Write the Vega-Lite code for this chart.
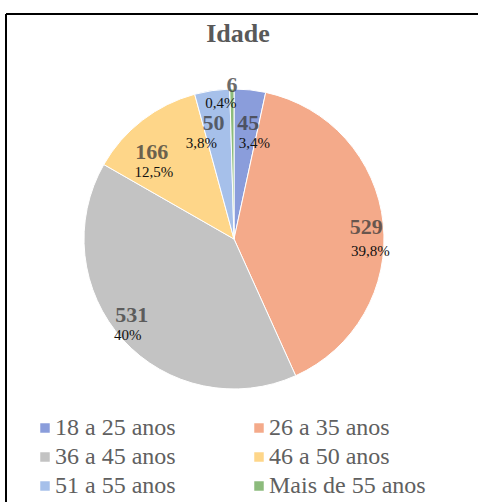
{
  "$schema": "https://vega.github.io/schema/vega-lite/v6.json",
  "width": 472,
  "height": 488,
  "autosize": {"type": "none"},
  "padding": {"left": 6, "top": 14, "right": 0, "bottom": 0},
  "background": "#ffffff",
  "config": {
    "view": {"stroke": null},
    "font": "Liberation Serif",
    "legend": {"labelFont": "Liberation Serif"}
  },
  "title": {
    "text": "Idade",
    "font": "Liberation Serif",
    "fontSize": 26,
    "fontWeight": "bold",
    "color": "#595959",
    "anchor": "middle",
    "frame": "group",
    "offset": -34,
    "dx": -4
  },
  "data": {
    "values": [
      {"faixa": "18 a 25 anos", "valor": 45, "pct": "3,4%"},
      {"faixa": "26 a 35 anos", "valor": 529, "pct": "39,8%"},
      {"faixa": "36 a 45 anos", "valor": 531, "pct": "40%"},
      {"faixa": "46 a 50 anos", "valor": 166, "pct": "12,5%"},
      {"faixa": "51 a 55 anos", "valor": 50, "pct": "3,8%"},
      {"faixa": "Mais de 55 anos", "valor": 6, "pct": "0,4%"}
    ]
  },
  "layer": [
    {
      "data": {"values": [{"moldura": 1}]},
      "mark": {"type": "rule", "stroke": "#000000", "strokeWidth": 2, "strokeCap": "butt"},
      "encoding": {"x": {"value": 0}}
    },
    {
      "data": {"values": [{"moldura": 1}]},
      "mark": {"type": "rule", "stroke": "#000000", "strokeWidth": 2, "strokeCap": "butt"},
      "encoding": {"y": {"value": 0}}
    },
    {
      "encoding": {
        "theta": {"field": "valor", "type": "quantitative", "stack": true},
        "order": {"field": "faixa", "type": "ordinal", "sort": "ascending"},
        "color": {
          "field": "faixa",
          "type": "nominal",
          "scale": {
            "domain": ["18 a 25 anos", "26 a 35 anos", "36 a 45 anos", "46 a 50 anos", "51 a 55 anos", "Mais de 55 anos"],
            "range": ["#8a9ddb", "#f4aa8a", "#c3c3c3", "#fed689", "#a6c0ea", "#8cbb7c"]
          },
          "legend": {
            "title": null,
            "orient": "none",
            "legendX": 27,
            "legendY": 402,
            "columns": 2,
            "direction": "horizontal",
            "padding": 0,
            "symbolType": "square",
            "symbolSize": 90,
            "symbolStrokeWidth": 0,
            "labelFont": "Liberation Serif",
            "labelFontSize": 24,
            "labelColor": "#606060",
            "labelOffset": -2,
            "labelLimit": 300,
            "columnPadding": 71,
            "rowPadding": 5
          }
        }
      },
      "layer": [
        {
          "mark": {"type": "arc", "outerRadius": 150, "stroke": "#ffffff", "strokeWidth": 1, "x": {"expr": "width/2 - 8"}, "y": {"expr": "height/2 - 19"}}
        },
        {
          "mark": {"type": "text", "radius": 106, "dx": 3, "dy": -11, "x": {"expr": "width/2 - 8"}, "y": {"expr": "height/2 - 19"}, "font": "Liberation Serif", "fontSize": 22, "fontWeight": "bold", "opacity": 0.75, "align": "center", "baseline": "middle"},
          "encoding": {"color": {"value": "#3a3a3a"}, "detail": {"field": "faixa", "type": "nominal"}, "text": {"condition": {"test": "datum.faixa === '18 a 25 anos'", "field": "valor", "type": "quantitative"}, "value": ""}}
        },
        {
          "mark": {"type": "text", "radius": 106, "dx": 9, "dy": 9, "x": {"expr": "width/2 - 8"}, "y": {"expr": "height/2 - 19"}, "font": "Liberation Serif", "fontSize": 15, "align": "center", "baseline": "middle"},
          "encoding": {"color": {"value": "#111111"}, "detail": {"field": "faixa", "type": "nominal"}, "text": {"condition": {"test": "datum.faixa === '18 a 25 anos'", "field": "pct", "type": "nominal"}, "value": ""}}
        },
        {
          "mark": {"type": "text", "radius": 132, "dx": 1, "dy": 2, "x": {"expr": "width/2 - 8"}, "y": {"expr": "height/2 - 19"}, "font": "Liberation Serif", "fontSize": 22, "fontWeight": "bold", "opacity": 0.75, "align": "center", "baseline": "middle"},
          "encoding": {"color": {"value": "#3a3a3a"}, "detail": {"field": "faixa", "type": "nominal"}, "text": {"condition": {"test": "datum.faixa === '26 a 35 anos'", "field": "valor", "type": "quantitative"}, "value": ""}}
        },
        {
          "mark": {"type": "text", "radius": 132, "dx": 5, "dy": 26, "x": {"expr": "width/2 - 8"}, "y": {"expr": "height/2 - 19"}, "font": "Liberation Serif", "fontSize": 15, "align": "center", "baseline": "middle"},
          "encoding": {"color": {"value": "#111111"}, "detail": {"field": "faixa", "type": "nominal"}, "text": {"condition": {"test": "datum.faixa === '26 a 35 anos'", "field": "pct", "type": "nominal"}, "value": ""}}
        },
        {
          "mark": {"type": "text", "radius": 130, "dx": -6, "dy": -11, "x": {"expr": "width/2 - 8"}, "y": {"expr": "height/2 - 19"}, "font": "Liberation Serif", "fontSize": 22, "fontWeight": "bold", "opacity": 0.75, "align": "center", "baseline": "middle"},
          "encoding": {"color": {"value": "#3a3a3a"}, "detail": {"field": "faixa", "type": "nominal"}, "text": {"condition": {"test": "datum.faixa === '36 a 45 anos'", "field": "valor", "type": "quantitative"}, "value": ""}}
        },
        {
          "mark": {"type": "text", "radius": 130, "dx": -10, "dy": 9, "x": {"expr": "width/2 - 8"}, "y": {"expr": "height/2 - 19"}, "font": "Liberation Serif", "fontSize": 15, "align": "center", "baseline": "middle"},
          "encoding": {"color": {"value": "#111111"}, "detail": {"field": "faixa", "type": "nominal"}, "text": {"condition": {"test": "datum.faixa === '36 a 45 anos'", "field": "pct", "type": "nominal"}, "value": ""}}
        },
        {
          "mark": {"type": "text", "radius": 105, "dx": -18, "dy": -4, "x": {"expr": "width/2 - 8"}, "y": {"expr": "height/2 - 19"}, "font": "Liberation Serif", "fontSize": 22, "fontWeight": "bold", "opacity": 0.75, "align": "center", "baseline": "middle"},
          "encoding": {"color": {"value": "#3a3a3a"}, "detail": {"field": "faixa", "type": "nominal"}, "text": {"condition": {"test": "datum.faixa === '46 a 50 anos'", "field": "valor", "type": "quantitative"}, "value": ""}}
        },
        {
          "mark": {"type": "text", "radius": 105, "dx": -16, "dy": 16, "x": {"expr": "width/2 - 8"}, "y": {"expr": "height/2 - 19"}, "font": "Liberation Serif", "fontSize": 15, "align": "center", "baseline": "middle"},
          "encoding": {"color": {"value": "#111111"}, "detail": {"field": "faixa", "type": "nominal"}, "text": {"condition": {"test": "datum.faixa === '46 a 50 anos'", "field": "pct", "type": "nominal"}, "value": ""}}
        },
        {
          "mark": {"type": "text", "radius": 106, "dx": -5, "dy": -11, "x": {"expr": "width/2 - 8"}, "y": {"expr": "height/2 - 19"}, "font": "Liberation Serif", "fontSize": 22, "fontWeight": "bold", "opacity": 0.75, "align": "center", "baseline": "middle"},
          "encoding": {"color": {"value": "#3a3a3a"}, "detail": {"field": "faixa", "type": "nominal"}, "text": {"condition": {"test": "datum.faixa === '51 a 55 anos'", "field": "valor", "type": "quantitative"}, "value": ""}}
        },
        {
          "mark": {"type": "text", "radius": 106, "dx": -17, "dy": 9, "x": {"expr": "width/2 - 8"}, "y": {"expr": "height/2 - 19"}, "font": "Liberation Serif", "fontSize": 15, "align": "center", "baseline": "middle"},
          "encoding": {"color": {"value": "#111111"}, "detail": {"field": "faixa", "type": "nominal"}, "text": {"condition": {"test": "datum.faixa === '51 a 55 anos'", "field": "pct", "type": "nominal"}, "value": ""}}
        },
        {
          "mark": {"type": "text", "radius": 145, "dx": 0, "dy": -9, "x": {"expr": "width/2 - 8"}, "y": {"expr": "height/2 - 19"}, "font": "Liberation Serif", "fontSize": 22, "fontWeight": "bold", "opacity": 0.75, "align": "center", "baseline": "middle"},
          "encoding": {"color": {"value": "#3a3a3a"}, "detail": {"field": "faixa", "type": "nominal"}, "text": {"condition": {"test": "datum.faixa === 'Mais de 55 anos'", "field": "valor", "type": "quantitative"}, "value": ""}}
        },
        {
          "mark": {"type": "text", "radius": 145, "dx": -11, "dy": 9, "x": {"expr": "width/2 - 8"}, "y": {"expr": "height/2 - 19"}, "font": "Liberation Serif", "fontSize": 15, "align": "center", "baseline": "middle"},
          "encoding": {"color": {"value": "#111111"}, "detail": {"field": "faixa", "type": "nominal"}, "text": {"condition": {"test": "datum.faixa === 'Mais de 55 anos'", "field": "pct", "type": "nominal"}, "value": ""}}
        }
      ]
    }
  ]
}
